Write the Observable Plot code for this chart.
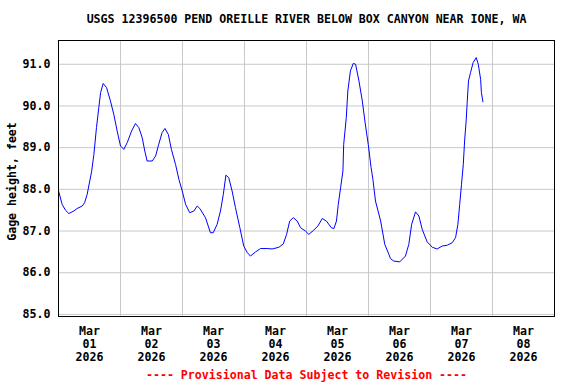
<!DOCTYPE html>
<html>
<head>
<meta charset="utf-8">
<script src="https://cdn.jsdelivr.net/npm/d3@7"></script>
<script src="https://cdn.jsdelivr.net/npm/@observablehq/plot@0.6"></script>
<style>
  html, body { margin: 0; padding: 0; background: #fff; }
</style>
</head>
<body>
<div id="chart"></div>
<script>
const titleText = "USGS 12396500 PEND OREILLE RIVER BELOW BOX CANYON NEAR IONE, WA";
const yLabel = "Gage height, feet";
const footerText = "---- Provisional Data Subject to Revision ----";
const monthLabel = "Mar";
const yearLabel = "2026";
const dayLabels = ["01", "02", "03", "04", "05", "06", "07", "08"];
const yTicks = [85, 86, 87, 88, 89, 90, 91];

// hours after 2026-03-01 00:00
const hours = [0, 1.4, 2.7, 4.0, 5.9, 7.2, 9.2, 10.1, 11.1, 12.1, 12.8, 13.7, 14.7, 15.6, 16.3, 17.3, 18.6, 20.1, 21.4, 22.7,
  24.0, 25.3, 26.6, 28.3, 29.8, 31.1, 32.4, 33.4, 34.3, 36.3, 37.6, 38.8, 40.1, 41.2, 42.5, 43.7, 45.3, 46.6, 47.9,
  49.2, 50.8, 52.4, 53.7, 54.7, 56.9, 58.8, 59.9, 61.4, 62.7, 63.8, 64.8, 65.9, 67.2, 68.5, 70.2, 71.7,
  73.1, 74.3, 76.3, 78.2, 80.8, 82.7, 85.3, 87.0, 88.3, 89.5, 90.9, 92.4, 93.7, 95.6,
  96.9, 98.8, 100.4, 102.1, 103.7, 105.6, 106.6, 107.6, 108.3, 109.2, 110.1, 110.4, 111.4, 112.0, 113.0, 114.1, 115.0, 116.3, 117.6, 118.6,
  119.9, 121.0, 121.7, 122.7, 124.7, 126.3, 127.9, 128.5, 129.8, 132.1, 134.3, 135.6, 136.7, 138.2, 139.5, 140.8, 142.7,
  144.7, 146.6, 148.5, 150.5, 152.4, 153.7, 154.6, 155.3, 156.0, 156.7, 157.2, 157.8, 158.2, 158.7, 159.5, 160.5, 161.7, 162.5, 163.4, 163.7, 164.3];
const stage = [87.97, 87.64, 87.50, 87.42, 87.48, 87.54, 87.60, 87.68, 87.88, 88.20, 88.42, 88.84, 89.48, 89.96, 90.32, 90.54, 90.44, 90.12, 89.80, 89.40,
  89.04, 88.96, 89.12, 89.40, 89.58, 89.48, 89.24, 88.92, 88.68, 88.68, 88.80, 89.08, 89.36, 89.46, 89.32, 88.96, 88.60, 88.24, 87.96,
  87.64, 87.44, 87.48, 87.60, 87.54, 87.32, 86.96, 86.96, 87.16, 87.48, 87.88, 88.34, 88.28, 87.96, 87.56, 87.08, 86.64,
  86.48, 86.40, 86.50, 86.58, 86.58, 86.57, 86.61, 86.69, 86.92, 87.24, 87.32, 87.24, 87.08, 87.00,
  86.92, 87.02, 87.12, 87.30, 87.24, 87.08, 87.06, 87.24, 87.64, 88.04, 88.44, 89.08, 89.72, 90.36, 90.84, 91.02, 91.00, 90.60, 90.12, 89.64,
  89.08, 88.52, 88.24, 87.72, 87.24, 86.68, 86.44, 86.34, 86.28, 86.26, 86.40, 86.68, 87.16, 87.46, 87.36, 87.04, 86.74,
  86.61, 86.57, 86.64, 86.66, 86.72, 86.84, 87.16, 87.64, 88.12, 88.60, 89.16, 89.64, 90.08, 90.60, 90.80, 91.04, 91.16, 91.00, 90.64, 90.32, 90.10];

const t0 = Date.UTC(2026, 2, 1);
const series = hours.map((h, i) => ({date: new Date(t0 + h * 3600e3), value: stage[i]}));
const midnights = d3.range(1, 8).map(d => new Date(t0 + d * 864e5));
const noons = dayLabels.map((d, i) => ({date: new Date(t0 + (i + 0.5) * 864e5), label: `${monthLabel}\n${d}\n${yearLabel}`}));

const font = {fontFamily: "DejaVu Sans Mono", fontWeight: "bold", fontSize: 11.6};

const chart = Plot.plot({
  width: 576,
  height: 384,
  marginLeft: 58,
  marginRight: 22,
  marginTop: 40,
  marginBottom: 68,
  style: {fontFamily: "DejaVu Sans Mono", fontSize: "11.6px", fontWeight: "bold", color: "black", background: "white"},
  x: {type: "utc", domain: [new Date(t0), new Date(t0 + 8 * 864e5)], axis: null},
  y: {domain: [84.95, 91.57]},
  marks: [
    Plot.ruleX(midnights, {stroke: "#c8c8c8", strokeWidth: 1}),
    Plot.ruleY(yTicks, {stroke: "#c8c8c8", strokeWidth: 1}),
    Plot.line(series, {x: "date", y: "value", stroke: "#0000ff", strokeWidth: 1}),
    Plot.frame({stroke: "black", strokeWidth: 1}),
    Plot.axisY(yTicks, {tickSize: 0, tickPadding: 8, tickFormat: d => d.toFixed(1), label: null, ...font}),
    Plot.text(noons, {x: "date", text: "label", frameAnchor: "bottom", lineAnchor: "top", dy: 9.5, lineHeight: 1.12, fill: "black", ...font}),
    Plot.text([titleText], {frameAnchor: "top", dy: -21, lineAnchor: "middle", fill: "black", ...font}),
    Plot.text([footerText], {frameAnchor: "bottom", dy: 59, lineAnchor: "middle", fill: "#ff0000", ...font}),
    Plot.text([yLabel], {frameAnchor: "left", textAnchor: "middle", dx: -46, dy: 3, rotate: -90, lineAnchor: "middle", fill: "black", ...font})
  ]
});
document.getElementById("chart").appendChild(chart);
</script>
</body>
</html>
